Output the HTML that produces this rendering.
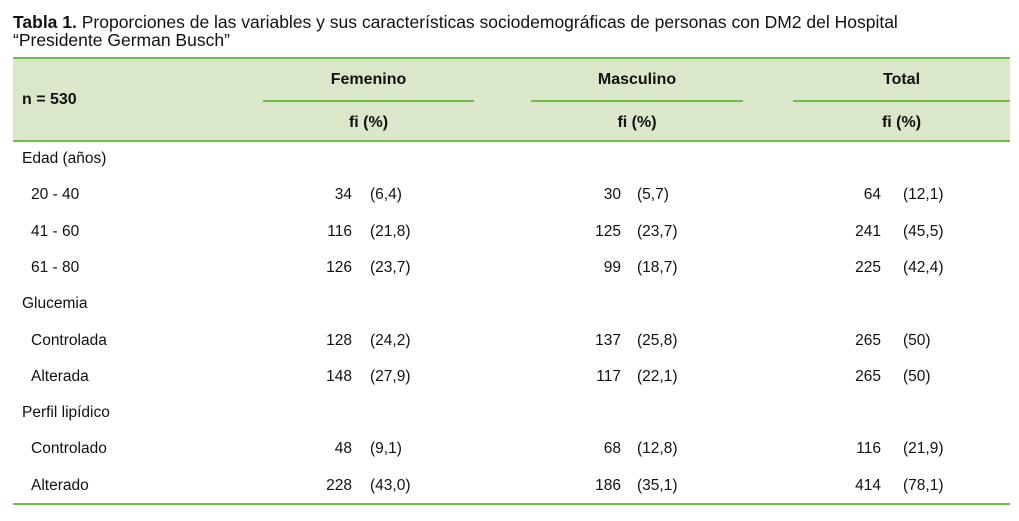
<!DOCTYPE html>
<html><head><meta charset="utf-8"><style>
body{margin:0;width:1019px;height:521px;background:#fff;font-family:"Liberation Sans",sans-serif;color:#111;position:relative;overflow:hidden}
.a{position:absolute;white-space:nowrap}
.t{font-size:17.5px;left:13px}
.h{font-size:16px;font-weight:bold}
.c{font-size:15.5px}
.ln{position:absolute;height:2px;background:#74bb4f}
.r{text-align:right}
</style></head><body>
<div class="a t" style="top:12px"><b>Tabla 1.</b> Proporciones de las variables y sus características sociodemográficas de personas con DM2 del Hospital</div>
<div class="a t" style="top:30px">“Presidente German Busch”</div>
<div class="a" style="left:13px;top:58px;width:997px;height:83px;background:#dae8c9"></div>
<div class="ln" style="left:13px;top:57px;width:997px"></div>
<div class="ln" style="left:13px;top:140px;width:997px"></div>
<div class="ln" style="left:13px;top:503px;width:997px"></div>
<div class="ln" style="left:263px;top:100px;width:211px"></div>
<div class="ln" style="left:531px;top:100px;width:212px"></div>
<div class="ln" style="left:793px;top:100px;width:217px"></div>
<div class="a h" style="left:22px;top:91px">n = 530</div>
<div class="a h" style="left:263px;width:211px;text-align:center;top:71px">Femenino</div>
<div class="a h" style="left:531px;width:212px;text-align:center;top:71px">Masculino</div>
<div class="a h" style="left:793px;width:217px;text-align:center;top:71px">Total</div>
<div class="a h" style="left:263px;width:211px;text-align:center;top:114px">fi (%)</div>
<div class="a h" style="left:531px;width:212px;text-align:center;top:114px">fi (%)</div>
<div class="a h" style="left:793px;width:217px;text-align:center;top:114px">fi (%)</div>
<div id="rows"></div>
<script>
const labels=["Edad (años)","20 - 40","41 - 60","61 - 80","Glucemia","Controlada","Alterada","Perfil lipídico","Controlado","Alterado"];
const fem=[null,["34","(6,4)"],["116","(21,8)"],["126","(23,7)"],null,["128","(24,2)"],["148","(27,9)"],null,["48","(9,1)"],["228","(43,0)"]];
const masc=[null,["30","(5,7)"],["125","(23,7)"],["99","(18,7)"],null,["137","(25,8)"],["117","(22,1)"],null,["68","(12,8)"],["186","(35,1)"]];
const tot=[null,["64","(12,1)"],["241","(45,5)"],["225","(42,4)"],null,["265","(50)"],["265","(50)"],null,["116","(21,9)"],["414","(78,1)"]];
const root=document.getElementById('rows');
function add(txt,left,top,right,name){
  const d=document.createElement('div');
  d.className='a c';
  d.textContent=txt;
  d.style.top=top+'px';
  if(right){d.style.left=(left-60)+'px';d.style.width='60px';d.style.textAlign='right';}
  else d.style.left=left+'px';
  
  
  root.appendChild(d);
}
labels.forEach((l,i)=>{
  const y=150+i*36.3;
  const sub=fem[i]!==null;
  add(l,sub?31:22,y,false,sub?'row-label':'group-label');
  [[fem,352,370],[masc,621,637],[tot,881,903]].forEach(([arr,cx,px])=>{
    if(!arr[i])return;
    add(arr[i][0],cx,y,true,'count-cell');
    add(arr[i][1],px,y,false,'percent-cell');
  });
});
</script>
</body></html>
